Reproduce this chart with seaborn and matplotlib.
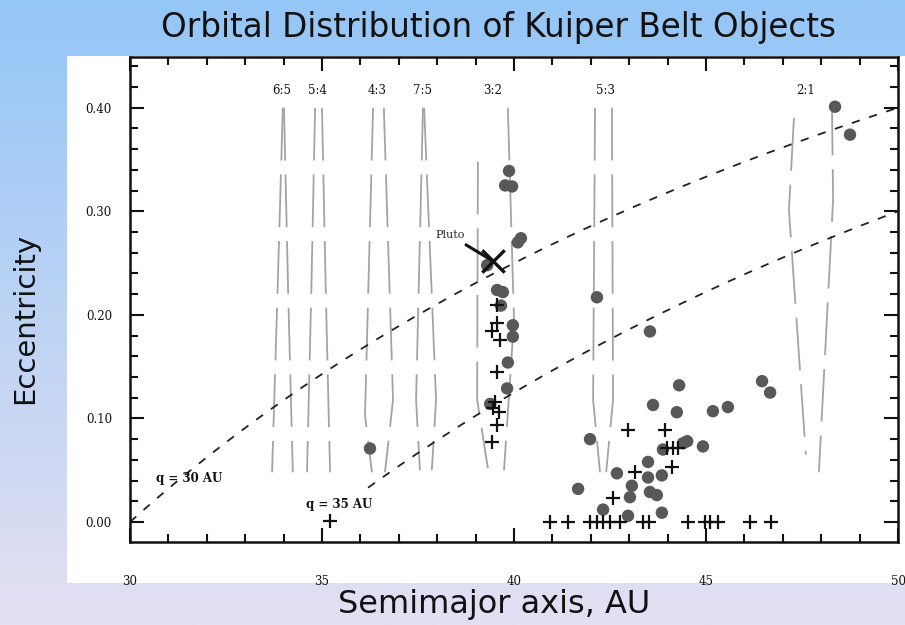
import numpy as np
import seaborn as sns
import matplotlib.pyplot as plt
from matplotlib.ticker import MultipleLocator
from matplotlib.patches import Rectangle

# grey dots (semimajor axis AU, eccentricity)
dot_a = [39.87, 39.77, 39.95, 40.10, 40.18, 39.30, 39.56, 39.71, 39.66, 39.97,
         39.97, 39.84, 39.82, 39.38, 42.16, 43.54, 48.36, 48.75, 36.25, 44.30,
         43.62, 44.24, 45.18, 45.57, 46.46, 46.67, 41.98, 44.40, 44.51, 44.92,
         43.88, 43.49, 42.68, 43.85, 43.49, 43.07, 41.67, 43.54, 43.72, 43.02,
         42.32, 43.85, 42.97]
dot_e = [0.339, 0.325, 0.324, 0.270, 0.274, 0.248, 0.224, 0.222, 0.209, 0.190,
         0.179, 0.154, 0.129, 0.114, 0.217, 0.184, 0.401, 0.374, 0.071, 0.132,
         0.113, 0.106, 0.107, 0.111, 0.136, 0.125, 0.080, 0.076, 0.078, 0.073,
         0.070, 0.058, 0.047, 0.045, 0.043, 0.035, 0.032, 0.029, 0.026, 0.024,
         0.012, 0.009, 0.006]

# crosses
plus_a = [39.56, 39.56, 39.43, 39.64, 39.56, 39.51, 39.45, 39.61, 39.56, 39.43,
          42.97, 43.93, 43.98, 44.14, 44.27, 44.11, 43.15, 42.58,
          40.94, 41.41, 41.98, 42.16, 42.32, 42.50, 42.76, 43.36, 43.52, 44.53,
          44.97, 45.10, 45.31, 46.15, 46.69, 35.21]
plus_e = [0.210, 0.192, 0.184, 0.176, 0.145, 0.116, 0.110, 0.106, 0.094, 0.077,
          0.089, 0.089, 0.071, 0.071, 0.071, 0.053, 0.048, 0.023,
          0.0, 0.0, 0.0, 0.0, 0.0, 0.0, 0.0, 0.0, 0.0, 0.0,
          0.0, 0.0, 0.0, 0.0, 0.0, 0.001]

pluto_a, pluto_e = 39.45, 0.252

# mean motion resonances with Neptune
res_names = ["6:5", "5:4", "4:3", "7:5", "3:2", "5:3", "2:1"]
res_a = [33.96, 34.87, 36.43, 37.63, 39.45, 42.37, 47.58]
res_left_a = [[33.98, 33.84, 33.70], [34.82, 34.72, 34.61], [36.33, 36.12, 36.30],
              [37.63, 37.45, 37.55], [39.06, 39.04, 39.32], [42.11, 42.06, 42.24],
              [47.29, 47.16, 47.60]]
res_left_e = [[0.40, 0.22, 0.048], [0.40, 0.22, 0.048], [0.40, 0.103, 0.048],
              [0.40, 0.118, 0.05], [0.348, 0.118, 0.052], [0.40, 0.118, 0.048],
              [0.39, 0.301, 0.065]]
res_right_a = [[34.01, 34.12, 34.24], [35.00, 35.10, 35.21], [36.61, 36.85, 36.64],
               [37.66, 37.97, 37.86], [39.84, 40.00, 39.74], [42.55, 42.58, 42.40],
               [48.28, 48.31, 47.94]]
res_right_e = [[0.40, 0.22, 0.048], [0.40, 0.22, 0.048], [0.40, 0.118, 0.048],
               [0.40, 0.118, 0.05], [0.40, 0.195, 0.05], [0.40, 0.118, 0.048],
               [0.405, 0.311, 0.048]]

# constant perihelion lines
q_values = [30, 35]
q_start = [30.0, 36.2]

sns.set_style("ticks")
plt.rcParams["lines.scale_dashes"] = False
plt.rcParams["font.family"] = ["DejaVu Sans"]

fig = plt.figure(figsize=(9.05, 6.25), dpi=100)

# slide background: blue to lavender gradient
bg = fig.add_axes([0, 0, 1, 1])
top = np.array([0x94, 0xc6, 0xf7]) / 255
bot = np.array([0xe4, 0xe0, 0xf2]) / 255
t = np.linspace(0, 1, 256)[:, None]
grad = top[None, :] * (1 - t) + bot[None, :] * t
bg.imshow(grad[:, None, :], aspect="auto", extent=[0, 1, 0, 1])
bg.axis("off")
fig.add_artist(Rectangle((67 / 905, 42 / 625), 838 / 905, 527 / 625,
                         transform=fig.transFigure, facecolor="white",
                         edgecolor="none", zorder=1))

ax = fig.add_axes([130 / 905, 83 / 625, 768 / 905, 485 / 625])
ax.set_zorder(2)
ax.set_facecolor("white")

line_grey = "#a3a3a3"
for la, le, ra, re in zip(res_left_a, res_left_e, res_right_a, res_right_e):
    ax.plot(la, le, color=line_grey, lw=1.3, dashes=(38, 10))
    ax.plot(ra, re, color=line_grey, lw=1.3, dashes=(38, 10))

for q, a0 in zip(q_values, q_start):
    a = np.linspace(a0, 50, 200)
    ax.plot(a, 1 - q / a, color="#222222", lw=1.3, dashes=(6, 7))

sns.scatterplot(x=dot_a, y=dot_e, color="#585858", s=80, marker="o",
                edgecolor="none", ax=ax, zorder=3)
sns.scatterplot(x=plus_a, y=plus_e, color="#111111", s=110, marker="+",
                linewidth=1.6, ax=ax, zorder=4)
ax.scatter([pluto_a], [pluto_e], marker="x", s=260, color="#111111",
           linewidths=2.4, zorder=5)
ax.annotate("Pluto", xy=(pluto_a, pluto_e), xytext=(38.33, 0.277),
            fontsize=8, family="DejaVu Serif", ha="center", va="center",
            arrowprops=dict(arrowstyle="-", color="#111111", lw=2.2,
                            shrinkA=2, shrinkB=0))

label_font = dict(family="DejaVu Serif", fontsize=8.5, color="#111111")
for name, a in zip(res_names, res_a):
    ax.text(a, 0.417, name, ha="center", va="center", **label_font)

ax.text(31.55, 0.042, "q = 30 AU", ha="center", va="center",
        fontweight="bold", **label_font)
ax.text(35.45, 0.017, "q = 35 AU", ha="center", va="center",
        fontweight="bold", **label_font)

ax.set_xlim(30, 50)
ax.set_ylim(-0.0193, 0.449)
ax.xaxis.set_minor_locator(MultipleLocator(1))
ax.yaxis.set_minor_locator(MultipleLocator(0.02))
ax.set_yticks([0.0, 0.1, 0.2, 0.3, 0.4])
ax.set_yticklabels(["0.00", "0.10", "0.20", "0.30", "0.40"])
ax.set_xticks([30, 35, 40, 45, 50])
ax.set_xticklabels(["30", "35", "40", "45", "50"])

ax.tick_params(which="both", direction="in", top=True, right=True,
               width=1.5, color="#111111", labelcolor="#111111")
ax.tick_params(which="major", length=10)
ax.tick_params(which="minor", length=6)
ax.tick_params(axis="x", which="major", pad=24, labelsize=8.5)
ax.tick_params(axis="y", which="major", pad=13, labelsize=8.5)
for lab in ax.get_xticklabels() + ax.get_yticklabels():
    lab.set_family("DejaVu Serif")
for sp in ax.spines.values():
    sp.set_linewidth(1.8)
    sp.set_color("#111111")

fig.text(498 / 905, 1 - 28 / 625, "Orbital Distribution of Kuiper Belt Objects",
         ha="center", va="center", fontsize=23.5, color="#111111")
fig.text(494 / 905, 1 - 604 / 625, "Semimajor axis, AU",
         ha="center", va="center", fontsize=23, color="#111111")
fig.text(25 / 905, 1 - 318 / 625, "Eccentricity", rotation=90,
         ha="center", va="center", fontsize=21, color="#111111")

fig.savefig("out.png", dpi=100)
